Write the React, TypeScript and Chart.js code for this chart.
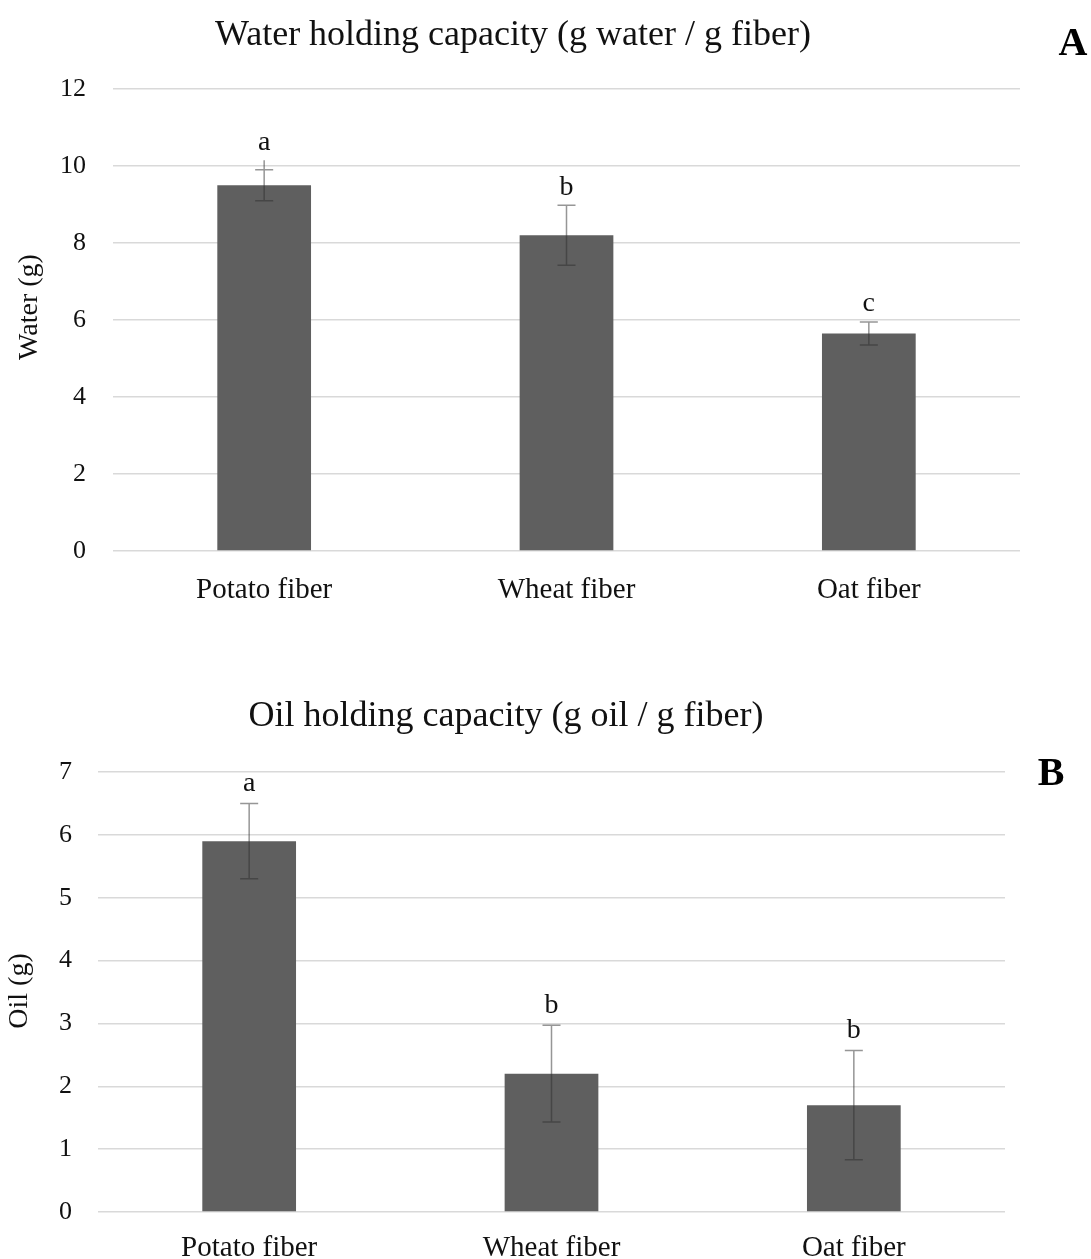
import React, { useEffect, useRef } from 'react';
import { Chart, registerables } from 'chart.js';
Chart.register(...registerables);

const categories = ['Potato fiber', 'Wheat fiber', 'Oat fiber'];

const waterValues = [9.5, 8.2, 5.65];
const waterErrors = [0.4, 0.78, 0.3];
const waterWhiskerTop = [10.15, 8.98, 5.95];
const waterLetters = ['a', 'b', 'c'];
const waterTicks = [0, 2, 4, 6, 8, 10, 12];

const oilValues = [5.9, 2.2, 1.7];
const oilErrors = [0.6, 0.77, 0.87];
const oilWhiskerTop = [6.5, 2.97, 2.57];
const oilLetters = ['a', 'b', 'b'];
const oilTicks = [0, 1, 2, 3, 4, 5, 6, 7];

const SERIF = "'Liberation Serif', 'Times New Roman', serif";

type PanelCfg = {
  title: string;
  titleX: number;
  titleY: number;
  panel: string;
  panelX: number;
  panelY: number;
  yTitle: string;
  yTitleX: number;
  yTitleY: number;
  values: number[];
  errors: number[];
  whiskerTop: number[];
  letters: string[];
  ticks: number[];
  padTop: number;
  padRight: number;
  yWidth: number;
  xHeight: number;
  xPad: number;
  yPad: number;
  letterOffset: number;
};

function makeChart(canvas: HTMLCanvasElement, c: PanelCfg) {
  const deco = {
    id: 'deco',
    afterDatasetsDraw(chart: any) {
      const ctx = chart.ctx as CanvasRenderingContext2D;
      const ys = chart.scales.y;
      const meta = chart.getDatasetMeta(0);
      ctx.save();
      c.values.forEach((v, i) => {
        const x = meta.data[i].x;
        const yTop = ys.getPixelForValue(v + c.errors[i]);
        const yBot = ys.getPixelForValue(v - c.errors[i]);
        const lineTop = ys.getPixelForValue(c.whiskerTop[i]);
        ctx.strokeStyle = 'rgba(45,45,45,0.5)';
        ctx.lineWidth = 1.5;
        ctx.beginPath();
        ctx.moveTo(x, lineTop);
        ctx.lineTo(x, yBot);
        ctx.moveTo(x - 9, yTop);
        ctx.lineTo(x + 9, yTop);
        ctx.moveTo(x - 9, yBot);
        ctx.lineTo(x + 9, yBot);
        ctx.stroke();
        ctx.fillStyle = '#111';
        ctx.font = `28px ${SERIF}`;
        ctx.textAlign = 'center';
        ctx.textBaseline = 'middle';
        ctx.fillText(c.letters[i], x, Math.min(lineTop, yTop) - c.letterOffset);
      });
      ctx.fillStyle = '#111';
      ctx.font = `36px ${SERIF}`;
      ctx.textAlign = 'center';
      ctx.textBaseline = 'middle';
      ctx.fillText(c.title, c.titleX, c.titleY);
      ctx.font = `bold 40px ${SERIF}`;
      ctx.fillStyle = '#000';
      ctx.fillText(c.panel, c.panelX, c.panelY);
      ctx.save();
      ctx.translate(c.yTitleX, c.yTitleY);
      ctx.rotate(-Math.PI / 2);
      ctx.font = `28px ${SERIF}`;
      ctx.fillStyle = '#111';
      ctx.fillText(c.yTitle, 0, 0);
      ctx.restore();
      ctx.restore();
    },
  };

  return new Chart(canvas, {
    type: 'bar',
    data: {
      labels: categories,
      datasets: [
        {
          data: c.values,
          backgroundColor: '#5f5f5f',
          borderWidth: 0,
          barPercentage: 0.31,
          categoryPercentage: 1,
        },
      ],
    },
    options: {
      animation: false,
      responsive: false,
      maintainAspectRatio: false,
      layout: { padding: { top: c.padTop, right: c.padRight, left: 0, bottom: 0 } },
      plugins: { legend: { display: false }, tooltip: { enabled: false }, title: { display: false } },
      scales: {
        x: {
          grid: { display: false },
          border: { display: false },
          ticks: { color: '#111', font: { family: SERIF, size: 29 }, padding: c.xPad, maxRotation: 0 },
          afterFit: (s: any) => {
            s.height = c.xHeight;
          },
        },
        y: {
          min: c.ticks[0],
          max: c.ticks[c.ticks.length - 1],
          afterBuildTicks: (s: any) => {
            s.ticks = c.ticks.map((v) => ({ value: v }));
          },
          grid: { color: '#d9d9d9', lineWidth: 1.5, drawTicks: false },
          border: { display: false },
          ticks: { color: '#111', font: { family: SERIF, size: 26 }, padding: c.yPad },
          afterFit: (s: any) => {
            s.width = c.yWidth;
          },
        },
      },
    },
    plugins: [deco],
  } as any);
}

const waterCfg: PanelCfg = {
  title: 'Water holding capacity (g water / g fiber)',
  titleX: 513,
  titleY: 36,
  panel: 'A',
  panelX: 1073,
  panelY: 45,
  yTitle: 'Water (g)',
  yTitleX: 30,
  yTitleY: 307,
  values: waterValues,
  errors: waterErrors,
  whiskerTop: waterWhiskerTop,
  letters: waterLetters,
  ticks: waterTicks,
  padTop: 89,
  padRight: 71,
  yWidth: 113,
  xHeight: 79,
  xPad: 14,
  yPad: 27,
  letterOffset: 18,
};

const oilCfg: PanelCfg = {
  title: 'Oil holding capacity (g oil / g fiber)',
  titleX: 506,
  titleY: 87,
  panel: 'B',
  panelX: 1051,
  panelY: 145,
  yTitle: 'Oil (g)',
  yTitleX: 20,
  yTitleY: 361,
  values: oilValues,
  errors: oilErrors,
  whiskerTop: oilWhiskerTop,
  letters: oilLetters,
  ticks: oilTicks,
  padTop: 142,
  padRight: 86,
  yWidth: 98,
  xHeight: 47,
  xPad: 11,
  yPad: 26,
  letterOffset: 20,
};

export default function App() {
  const topRef = useRef<HTMLCanvasElement>(null);
  const botRef = useRef<HTMLCanvasElement>(null);
  useEffect(() => {
    const a = makeChart(topRef.current!, waterCfg);
    const b = makeChart(botRef.current!, oilCfg);
    return () => {
      a.destroy();
      b.destroy();
    };
  }, []);
  return (
    <div style={{ position: 'absolute', left: 0, top: 0, width: 1091, height: 1259, background: '#fff' }}>
      <canvas ref={topRef} width={1091} height={630} style={{ position: 'absolute', left: 0, top: 0, width: 1091, height: 630 }} />
      <canvas ref={botRef} width={1091} height={629} style={{ position: 'absolute', left: 0, top: 630, width: 1091, height: 629 }} />
    </div>
  );
}
